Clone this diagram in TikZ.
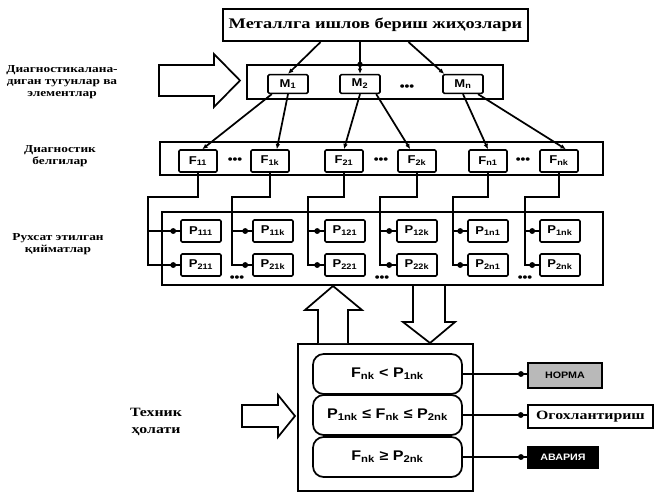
\documentclass[tikz,border=0pt]{standalone}
\usepackage{fontspec}
\setmainfont{Liberation Serif}
\newfontfamily\lblfont[FakeStretch=1.15]{Liberation Sans}
\newfontfamily\cyrfont[FakeStretch=1.25]{Liberation Serif}
\usetikzlibrary{arrows.meta,calc}
\tikzset{every picture/.style={line width=0.75pt}}
\tikzset{
	outerframe/.style={draw, line width=1.6pt},
	mnodebox/.style={draw, line width=1.2pt, rounded corners=1pt, minimum width=30pt, minimum height=14pt, inner sep=0pt, font=\lblfont\bfseries\fontsize{8.5}{10}\selectfont},
	fnodebox/.style={mnodebox, minimum width=28.5pt, minimum height=16.5pt},
	pnodebox/.style={mnodebox, minimum width=30pt, minimum height=16.5pt},
	wire/.style={line width=1.3pt},
	arrowwire/.style={wire, -{Latex[length=4pt,width=3.5pt]}},
	condbox/.style={draw, line width=1.3pt, rounded corners=8pt, minimum width=111.75pt, minimum height=30pt, inner sep=1pt, font=\lblfont\bfseries\fontsize{10.5}{12}\selectfont},
	bigarrow/.style={draw, line width=1.3pt, fill=white},
	sidetext/.style={font=\cyrfont\bfseries\fontsize{8}{9}\selectfont, align=center},
	dotsym/.style={font=\lblfont\bfseries\small, inner sep=0pt},
	outbox/.style={draw, line width=1.6pt, inner sep=1pt}
}

\begin{document}
\begin{tikzpicture}[x=0.75pt,y=0.75pt,yscale=-1,xscale=1]
	\useasboundingbox (0,0) rectangle (655,494);

	%Shape: Rectangle frames
	\draw[outerframe] (247,65) rectangle (503,99);
	\draw[outerframe] (160,142) rectangle (603,175);
	\draw[outerframe] (162,212) rectangle (603,285);
	\draw[outerframe] (298,344) rectangle (473,491);

	% Text Node
	\node[outerframe, minimum width=229pt, minimum height=24pt, font=\cyrfont\bfseries\fontsize{11}{13}\selectfont] (equip) at (375.5,25) {Металлга ишлов бериш жиҳозлари};

	% M nodes
	\node[mnodebox] (M1) at (288,84) {M\textsubscript{1}};
	\node[mnodebox] (M2) at (360,84) {M\textsubscript{2}};
	\node[dotsym] (mdots) at (407,88) {•••};
	\node[mnodebox] (Mn) at (463,84) {M\textsubscript{n}};

	% F nodes
	\foreach \nm/\lb/\x in {F11/{11}/198, F1k/{1k}/270, F21/{21}/344, F2k/{2k}/417, Fn1/{n1}/488, Fnk/{nk}/559}
		\node[fnodebox] (\nm) at (\x,161) {F\textsubscript{\lb}};
	\node[dotsym] (fdots1) at (235,161) {•••};
	\node[dotsym] (fdots2) at (381,161) {•••};
	\node[dotsym] (fdots3) at (523,161) {•••};

	% P nodes
	\foreach \c/\lb/\x in {1/11/201, 2/1k/273, 3/21/345, 4/2k/417, 5/n1/488, 6/nk/560} {
		\node[pnodebox] (Pa\c) at (\x,231) {P\textsubscript{1\lb}};
		\node[pnodebox] (Pb\c) at (\x,265) {P\textsubscript{2\lb}};
	}
	\node[dotsym] (pdots1) at (237,279) {•••};
	\node[dotsym] (pdots2) at (382,279) {•••};
	\node[dotsym] (pdots3) at (525,279) {•••};

	%Straight Lines: equipment to M
	\draw[arrowwire] ($(equip.south)+(-55,0)$) -- (M1.north);
	\draw[arrowwire] (equip.south -| M2.north) -- (M2.north);
	\fill ($(M2.north)+(0,-9.5)$) circle[radius=2pt];
	\draw[arrowwire] ($(equip.south)+(33,0)$) -- ($(Mn.north west)+(2,0)$);

	%Straight Lines: M to F
	\draw[arrowwire] (M1.212) -- (F11.70);
	\draw[arrowwire] (M1.south) -- (F1k.60);
	\draw[arrowwire] (M2.south) -- (F21.north);
	\draw[arrowwire] (M2.328) -- (F2k.120);
	\draw[arrowwire] (Mn.south) -- (Fn1.north);
	\draw[arrowwire] (Mn.326) -- (Fnk.60);

	%Straight Lines: F to P
	\foreach \c/\f/\vx in {1/F11/148, 2/F1k/232, 3/F21/308, 4/F2k/380, 5/Fn1/453, 6/Fnk/525} {
		\coordinate (bend\c) at (\vx,197);
		\draw[wire] (\f.south) |- (bend\c) |- (Pb\c.west);
		\draw[wire] (bend\c |- Pa\c.west) -- (Pa\c.west);
		\fill ($(Pa\c.west)+(-7,0)$) circle[radius=2.2pt];
		\fill ($(Pb\c.west)+(-7,0)$) circle[radius=2.2pt];
	}

	%Shape: block arrows
	\draw[bigarrow] (159,65) -- (214,65) -- (214,54) -- (240,80.5) -- (214,107) -- (214,96) -- (159,96) -- cycle;
	\draw[bigarrow] (242,405) -- (278,405) -- (278,395) -- (295,416) -- (278,437) -- (278,427) -- (242,427) -- cycle;
	\draw[bigarrow] (318,343) -- (318,310) -- (305,310) -- (333,286) -- (362,310) -- (348,310) -- (348,343);
	\draw[bigarrow] (413,286) -- (413,322) -- (403,322) -- (430,343) -- (455,322) -- (445,322) -- (445,286);

	% Condition nodes
	\node[condbox] (c1) at (387.5,374) {F\textsubscript{nk} < P\textsubscript{1nk}};
	\node[condbox] (c2) at (387.5,415) {P\textsubscript{1nk} ≤ F\textsubscript{nk} ≤ P\textsubscript{2nk}};
	\node[condbox] (c3) at (387.5,457) {F\textsubscript{nk} ≥ P\textsubscript{2nk}};

	% Output nodes
	\node[outbox, fill=gray!55, minimum width=55.5pt, minimum height=18.75pt, font=\lblfont\bfseries\scriptsize] (norma) at (565,375.5) {НОРМА};
	\node[outbox, minimum width=94pt, minimum height=17pt, font=\cyrfont\bfseries\fontsize{9.5}{11}\selectfont] (warn) at (590.5,416.5) {Огохлантириш};
	\node[outbox, fill=black, text=white, minimum width=52.5pt, minimum height=15.75pt, font=\lblfont\bfseries\scriptsize] (alarm) at (563,457.5) {АВАРИЯ};

	\draw[wire] (c1.east) -- (c1.east -| norma.west);
	\draw[wire] (c2.east) -- (c2.east -| warn.west);
	\draw[wire] (c3.east) -- (c3.east -| alarm.west);
	\fill ($(c1.east -| norma.west)+(-6,0)$) circle[radius=2.2pt];
	\fill ($(c2.east -| warn.west)+(-6,0)$) circle[radius=2.2pt];
	\fill ($(c3.east -| alarm.west)+(-6,0)$) circle[radius=2.2pt];

	% Text Node
	\node[sidetext] (lbl1) at (62,82) {Диагностикалана-\\диган тугунлар ва\\элементлар};
	\node[sidetext] (lbl2) at (60,156) {Диагностик\\белгилар};
	\node[sidetext] (lbl3) at (58,244) {Рухсат этилган\\қийматлар};
	\node[sidetext, font=\cyrfont\bfseries\fontsize{9.5}{13}\selectfont] (lbl4) at (156,422) {Техник\\ҳолати};

\end{tikzpicture}
\end{document}
